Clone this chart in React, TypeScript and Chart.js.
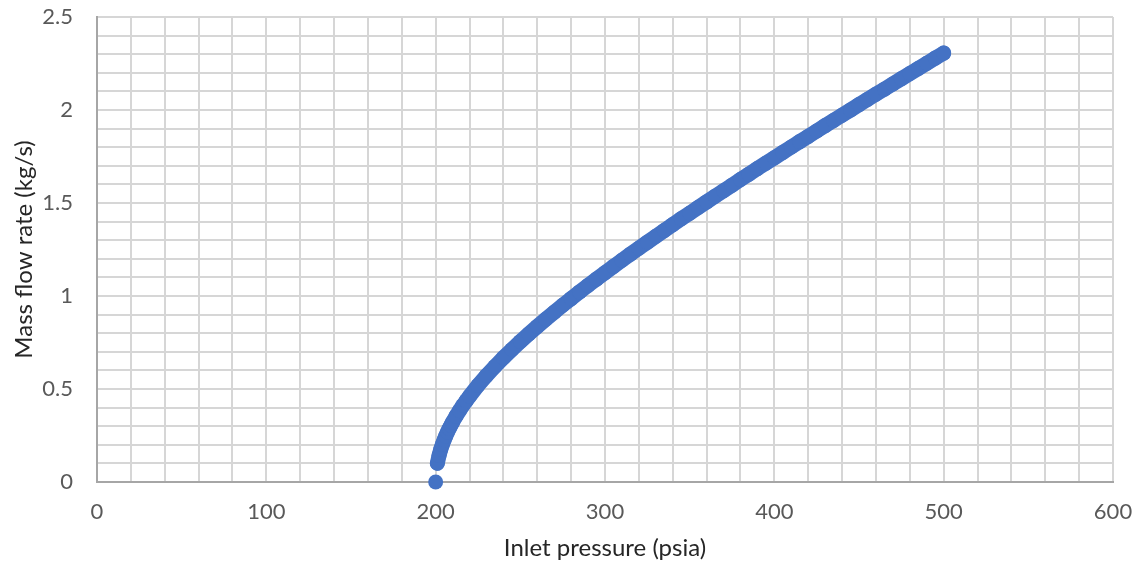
import React, { useEffect, useRef } from "react";
import { Chart, registerables } from "chart.js";

Chart.register(...registerables);

// Isolated first reading at the threshold pressure
const startPressure = [200];
const startFlow = [0];

// Inlet pressure (psia)
const pressure = [
  201, 202, 203, 204, 205, 206, 207, 208, 209, 210, 212, 214, 216, 218, 220,
  225, 230, 235, 240, 245, 250, 255, 260, 265, 270, 275, 280, 285, 290, 295,
  300, 305, 310, 315, 320, 325, 330, 335, 340, 345, 350, 355, 360, 365, 370,
  375, 380, 385, 390, 395, 400, 405, 410, 415, 420, 425, 430, 435, 440, 445,
  450, 455, 460, 465, 470, 475, 480, 485, 490, 495, 500,
];

// Mass flow rate (kg/s)
const flow = [
  0.101, 0.143, 0.175, 0.202, 0.226, 0.248, 0.269, 0.287, 0.305, 0.322, 0.354, 0.383, 0.411, 0.436, 0.461,
  0.519, 0.572, 0.621, 0.668, 0.712, 0.755, 0.796, 0.836, 0.875, 0.913, 0.950, 0.986, 1.022, 1.057, 1.091,
  1.125, 1.159, 1.192, 1.225, 1.257, 1.289, 1.321, 1.352, 1.384, 1.415, 1.445, 1.476, 1.506, 1.536, 1.566,
  1.596, 1.626, 1.655, 1.685, 1.714, 1.743, 1.772, 1.801, 1.830, 1.858, 1.887, 1.916, 1.944, 1.972, 2.000,
  2.029, 2.057, 2.085, 2.112, 2.140, 2.168, 2.196, 2.223, 2.251, 2.279, 2.306,
];

const xTickLabels = [0, 100, 200, 300, 400, 500, 600];
const yTickLabels = [0, 0.5, 1, 1.5, 2, 2.5];

const xTitle = "Inlet pressure (psia)";
const yTitle = "Mass flow rate (kg/s)";

const BLUE = "#4472C4";
const GRID = "#d6d6d6";
const FONT = "Lato, 'Open Sans', sans-serif";

export default function App() {
  const canvasRef = useRef<HTMLCanvasElement | null>(null);

  useEffect(() => {
    const canvas = canvasRef.current;
    if (!canvas) return;
    const isMajor = (v: number, list: number[]) =>
      list.some((t) => Math.abs(t - v) < 1e-6);
    const clearPad = (s: any) => {
      s.paddingTop = 0;
      s.paddingBottom = 0;
      s.paddingLeft = 0;
      s.paddingRight = 0;
    };

    const chart = new Chart(canvas, {
      type: "scatter",
      data: {
        datasets: [
          {
            data: startPressure.map((x, i) => ({ x, y: startFlow[i] })),
            showLine: false,
            clip: false,
            pointRadius: 7.5,
            pointHoverRadius: 7.5,
            pointBorderWidth: 0,
            backgroundColor: BLUE,
            borderColor: BLUE,
          },
          {
            data: pressure.map((x, i) => ({ x, y: flow[i] })),
            showLine: true,
            clip: false,
            borderWidth: 15,
            borderCapStyle: "round",
            borderJoinStyle: "round",
            pointRadius: 7.5,
            pointHoverRadius: 7.5,
            pointBorderWidth: 0,
            backgroundColor: BLUE,
            borderColor: BLUE,
          },
        ],
      },
      options: {
        animation: false,
        responsive: false,
        events: [],
        layout: { padding: { top: 17, right: 24, left: 0, bottom: 0 } },
        plugins: {
          legend: { display: false },
          tooltip: { enabled: false },
        },
        scales: {
          x: {
            type: "linear",
            min: 0,
            max: 600,
            afterFit: (s: any) => {
              s.height = 87;
              clearPad(s);
            },
            grid: { color: GRID, lineWidth: 2, drawTicks: false },
            border: { display: true, color: "#a6a6a6", width: 2 },
            ticks: {
              stepSize: 20,
              autoSkip: false,
              maxRotation: 0,
              padding: 17,
              color: "#595959",
              font: { family: FONT, size: 22 },
              callback: (v: any) =>
                isMajor(Number(v), xTickLabels) ? String(Number(v)) : "",
            },
            title: {
              display: true,
              text: xTitle,
              color: "#262626",
              font: { family: FONT, size: 24 },
              padding: { top: 0, bottom: 6 },
            },
          },
          y: {
            type: "linear",
            min: 0,
            max: 2.5,
            afterFit: (s: any) => {
              s.width = 97;
              clearPad(s);
            },
            grid: { color: GRID, lineWidth: 2, drawTicks: false },
            border: { display: true, color: "#a6a6a6", width: 2 },
            ticks: {
              stepSize: 0.1,
              autoSkip: false,
              padding: 24,
              color: "#595959",
              font: { family: FONT, size: 22 },
              callback: (v: any) =>
                isMajor(Number(v), yTickLabels) ? String(Number(v)) : "",
            },
            title: {
              display: true,
              text: yTitle,
              color: "#262626",
              font: { family: FONT, size: 24 },
              padding: { top: 10, bottom: 0 },
            },
          },
        },
      },
    });
    return () => chart.destroy();
  }, []);

  return (
    <div
      style={{
        position: "absolute",
        left: 0,
        top: 0,
        width: 1137,
        height: 569,
        background: "#ffffff",
      }}
    >
      <canvas
        ref={canvasRef}
        width={1137}
        height={569}
        style={{ display: "block", width: 1137, height: 569 }}
      />
    </div>
  );
}
